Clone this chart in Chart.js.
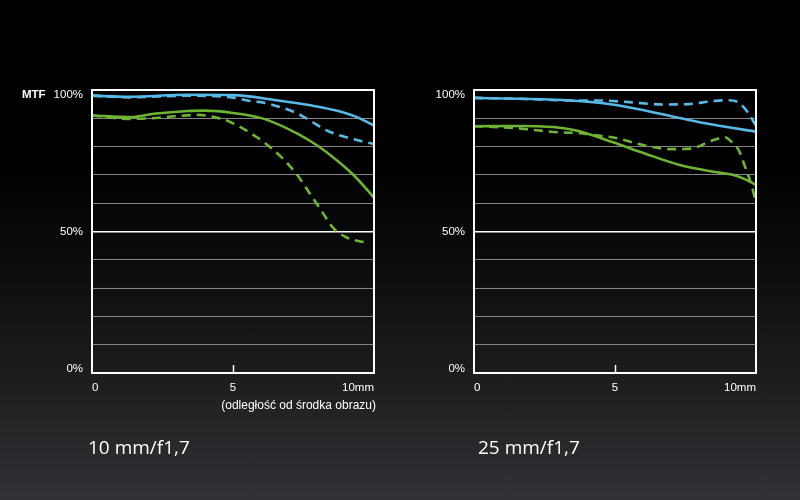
<!DOCTYPE html>
<html><head><meta charset="utf-8">
<script src="https://cdn.jsdelivr.net/npm/chart.js@4.4.1/dist/chart.umd.min.js"></script>
<style>
html,body{margin:0;padding:0;}
body{width:800px;height:500px;overflow:hidden;position:relative;
 background:linear-gradient(to bottom,#000 0%,#000 32%,#0d0e10 55%,#1d1f21 78%,#303235 100%);}
canvas{position:absolute;top:0;}
#c1{left:0} #c2{left:400px}
.ttl{position:absolute;top:438px;color:#fff;font:19px/19px "Open Sans",sans-serif;white-space:nowrap;}
.axt{position:absolute;top:398px;right:424px;color:#fff;font:12px/14px "Liberation Sans",Arial,sans-serif;white-space:nowrap;}
</style></head><body>
<canvas id="c1" width="400" height="500"></canvas>
<canvas id="c2" width="400" height="500"></canvas>
<div class="ttl" style="left:88px">10 mm/f1,7</div>
<div class="ttl" style="left:478px">25 mm/f1,7</div>
<div class="axt">(odległość od środka obrazu)</div>
<script>
// ---- data (x = distance from image centre in mm, y = MTF %) ----
const X_TICKS = [0, 5, 10];
const X_TICK_LABELS = ['0', '5', '10mm'];
const Y_LABEL_VALUES = [100, 50, 0];
const Y_LABEL_TEXT = ['100%', '50%', '0%'];

// 10 mm/f1,7
const L_BLUE_SOLID_X = [0, 1.3, 3.4, 5.0, 6.6, 7.8, 8.8, 9.4, 10];
const L_BLUE_SOLID_Y = [98.0, 97.6, 98.3, 98.2, 96.3, 94.5, 92.4, 90.4, 87.4];
const L_BLUE_DASH_X = [0, 1.3, 3.4, 5.0, 5.5, 6.1, 6.7, 7.3, 7.7, 8.3, 8.8, 9.4, 10];
const L_BLUE_DASH_Y = [98.0, 97.4, 98.0, 97.3, 96.3, 95.5, 93.9, 91.6, 89.4, 85.8, 83.9, 82.3, 80.9];
const L_GREEN_SOLID_X = [0, 1.4, 2.2, 3.4, 4.0, 5.0, 6.1, 7.3, 8.0, 8.7, 9.3, 10];
const L_GREEN_SOLID_Y = [91.0, 90.4, 91.6, 92.6, 92.7, 91.9, 89.8, 84.5, 80.3, 75.0, 69.7, 62.0];
const L_GREEN_DASH_X = [0, 1.35, 2.1, 2.9, 3.8, 4.3, 4.9, 5.85, 6.4, 6.9, 7.3, 7.7, 8.1, 8.55, 9.05, 9.75];
const L_GREEN_DASH_Y = [91.0, 89.8, 90.0, 90.7, 91.2, 90.5, 88.7, 83.3, 79.1, 74.4, 69.7, 63.8, 57.9, 51.3, 47.8, 46.0];

// 25 mm/f1,7
const R_BLUE_SOLID_X = [0, 1.6, 3.4, 4.9, 6.1, 7.3, 8.5, 10];
const R_BLUE_SOLID_Y = [97.2, 96.9, 96.3, 94.9, 92.7, 90.1, 87.7, 85.3];
const R_BLUE_DASH_X = [0, 1.6, 3.4, 4.4, 5.5, 6.7, 7.6, 8.4, 9.0, 9.4, 9.7, 10];
const R_BLUE_DASH_Y = [97.2, 96.9, 96.3, 96.3, 95.7, 94.9, 95.0, 96.0, 96.4, 95.5, 92.2, 87.4];
const R_GREEN_SOLID_X = [0, 1.6, 2.8, 3.7, 4.9, 6.1, 7.3, 8.5, 9.3, 9.6, 10];
const R_GREEN_SOLID_Y = [87.2, 87.3, 86.9, 85.5, 81.6, 77.4, 73.5, 71.1, 69.7, 68.5, 66.5];
const R_GREEN_DASH_X = [0, 1.4, 2.0, 3.1, 3.7, 4.4, 4.9, 6.1, 7.0, 7.7, 8.4, 8.9, 9.1, 9.4, 9.6, 9.85, 10];
const R_GREEN_DASH_Y = [87.2, 86.6, 86.0, 85.0, 84.8, 83.9, 83.3, 80.3, 79.1, 79.3, 82.0, 83.3, 82.0, 78.5, 73.2, 66.1, 60.2];

// ---- styles ----
const BLUE = '#58b9e7';
const GREEN = '#6db432';
const FONT = '"Liberation Sans", Arial, sans-serif';

function pts(xs, ys) { return xs.map((x, i) => ({x: x, y: ys[i]})); }
function ds(xs, ys, color, dashed) {
  return {
    data: pts(xs, ys), borderColor: color, borderWidth: 2.6,
    borderDash: dashed ? [9, 6] : [], pointRadius: 0,
    cubicInterpolationMode: 'monotone', fill: false
  };
}

const decor = {
  id: 'decor',
  afterDraw(chart, args, opts) {
    const {ctx, chartArea: a, scales: {x, y}} = chart;
    ctx.save();
    ctx.strokeStyle = '#fff';
    ctx.lineWidth = 2;
    ctx.strokeRect(a.left, a.top, a.right - a.left, a.bottom - a.top);
    const px = Math.round(x.getPixelForValue(X_TICKS[1])) + 0.5;
    ctx.lineWidth = 1.5;
    ctx.beginPath(); ctx.moveTo(px, a.bottom); ctx.lineTo(px, a.bottom - 8); ctx.stroke();
    ctx.fillStyle = '#fff';
    ctx.font = '11.5px ' + FONT;
    ctx.textAlign = 'right';
    ctx.textBaseline = 'middle';
    Y_LABEL_VALUES.forEach((v, i) => {
      const shift = v === 100 ? 4.5 : (v === 0 ? -4 : 0);
      ctx.fillText(Y_LABEL_TEXT[i], a.left - opts.gap, y.getPixelForValue(v) + shift);
    });
    if (opts.mtf) {
      ctx.font = 'bold 11.5px ' + FONT;
      ctx.textAlign = 'left';
      ctx.fillText('MTF', 22, y.getPixelForValue(100) + 4.5);
    }
    ctx.restore();
  }
};

function makeChart(id, sets, leftW, rightPad, gap, mtf) {
  return new Chart(document.getElementById(id), {
    type: 'line',
    data: {datasets: sets},
    options: {
      responsive: false, animation: false, devicePixelRatio: 1,
      layout: {padding: {top: 90, right: rightPad, bottom: 87, left: 0}},
      plugins: {legend: {display: false}, tooltip: {enabled: false}, decor: {gap: gap, mtf: mtf}},
      scales: {
        x: {
          type: 'linear', min: 0, max: 10,
          afterBuildTicks: s => { s.ticks = X_TICKS.map(v => ({value: v})); },
          afterFit: s => { s.height = 40; },
          grid: {display: false},
          border: {display: false},
          ticks: {
            color: '#fff', font: {size: 11.5, family: FONT}, padding: 0, align: 'inner',
            maxRotation: 0, autoSkip: false,
            callback: v => X_TICK_LABELS[X_TICKS.indexOf(v)]
          }
        },
        y: {
          min: 0, max: 100,
          afterFit: s => { s.width = leftW; },
          ticks: {display: false, stepSize: 10},
          border: {display: false},
          grid: {
            drawTicks: false,
            color: c => c.tick.value === 50 ? '#ffffff' : '#858585',
            lineWidth: c => c.tick.value === 50 ? 1.6 : 1
          }
        }
      }
    },
    plugins: [decor]
  });
}

makeChart('c1', [
  ds(L_GREEN_DASH_X, L_GREEN_DASH_Y, GREEN, true),
  ds(L_GREEN_SOLID_X, L_GREEN_SOLID_Y, GREEN, false),
  ds(L_BLUE_SOLID_X, L_BLUE_SOLID_Y, BLUE, false),
  ds(L_BLUE_DASH_X, L_BLUE_DASH_Y, BLUE, true)
], 92, 26, 9, true);

makeChart('c2', [
  ds(R_GREEN_DASH_X, R_GREEN_DASH_Y, GREEN, true),
  ds(R_GREEN_SOLID_X, R_GREEN_SOLID_Y, GREEN, false),
  ds(R_BLUE_SOLID_X, R_BLUE_SOLID_Y, BLUE, false),
  ds(R_BLUE_DASH_X, R_BLUE_DASH_Y, BLUE, true)
], 74, 44, 9, false);
</script></body></html>
